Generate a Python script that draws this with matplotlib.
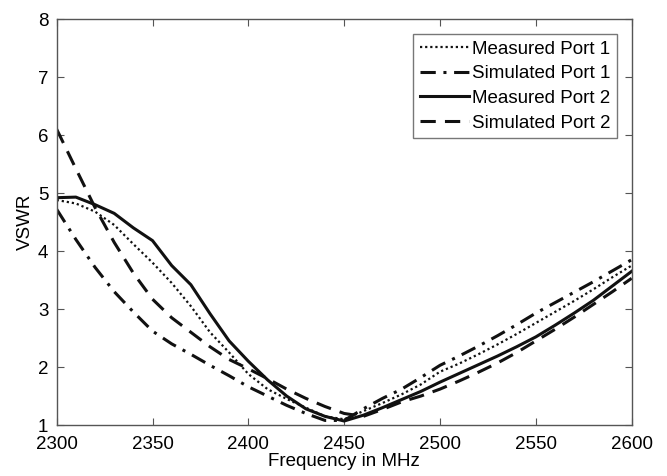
import matplotlib
matplotlib.use("Agg")
from matplotlib import pyplot as plt
import numpy as np

plt.rcParams['font.family'] = ['Liberation Sans', 'DejaVu Sans']

freq = [2300, 2310, 2320, 2330, 2340, 2350, 2360, 2370, 2380, 2390,
        2400, 2410, 2420, 2430, 2440, 2450, 2460, 2470, 2480, 2490,
        2500, 2510, 2520, 2530, 2540, 2550, 2560, 2570, 2580, 2590, 2600]

meas_p1 = [4.88, 4.82, 4.68, 4.45, 4.12, 3.80, 3.45, 3.05, 2.60, 2.25,
           1.88, 1.62, 1.45, 1.30, 1.15, 1.10, 1.24, 1.38, 1.53, 1.70,
           1.92, 2.06, 2.22, 2.39, 2.57, 2.76, 2.95, 3.14, 3.34, 3.55, 3.75]

sim_p1 = [4.72, 4.20, 3.72, 3.30, 2.95, 2.62, 2.40, 2.22, 2.03, 1.85,
          1.66, 1.50, 1.34, 1.20, 1.08, 1.08, 1.28, 1.46, 1.62, 1.82,
          2.03, 2.19, 2.36, 2.54, 2.73, 2.93, 3.11, 3.29, 3.47, 3.66, 3.85]

meas_p2 = [4.92, 4.93, 4.80, 4.65, 4.40, 4.18, 3.75, 3.42, 2.92, 2.45,
           2.10, 1.78, 1.50, 1.28, 1.15, 1.07, 1.17, 1.30, 1.44, 1.58,
           1.74, 1.89, 2.04, 2.19, 2.35, 2.52, 2.72, 2.93, 3.15, 3.40, 3.65]

sim_p2 = [6.10, 5.42, 4.75, 4.15, 3.62, 3.17, 2.85, 2.60, 2.35, 2.13,
          1.97, 1.80, 1.62, 1.46, 1.32, 1.20, 1.15, 1.27, 1.40, 1.50,
          1.62, 1.76, 1.91, 2.07, 2.25, 2.45, 2.65, 2.86, 3.08, 3.30, 3.53]

labels = ['Measured Port 1', 'Simulated Port 1', 'Measured Port 2', 'Simulated Port 2']

fig = plt.figure(figsize=(6.67, 4.76), dpi=100)
ax = fig.add_axes([0.085, 0.107, 0.862, 0.853])

ink = '#111111'
ax.plot(freq, meas_p1, color=ink, lw=1.6, linestyle=(0, (1, 1.3)), label=labels[0])
ax.plot(freq, sim_p1, color=ink, lw=2.2, linestyle=(0, (5, 2.5, 1, 2.5)), label=labels[1])
ax.plot(freq, meas_p2, color=ink, lw=2.2, linestyle='-', label=labels[2])
ax.plot(freq, sim_p2, color=ink, lw=2.2, linestyle=(0, (5, 3)), label=labels[3])

ax.set_xlim(2300, 2600)
ax.set_ylim(1, 8)
ax.set_xticks(np.arange(2300, 2601, 50))
ax.set_yticks(np.arange(1, 9, 1))
ax.tick_params(direction='in', top=True, right=True, labelsize=13.5,
               color='#555555', length=5)
ax.tick_params(axis='y', pad=6)
ax.tick_params(axis='x', pad=8)
for s in ax.spines.values():
    s.set_color('#555555')
    s.set_linewidth(1.0)

ax.set_xlabel('Frequency in MHz', fontsize=13.5, labelpad=0)
ax.set_ylabel('VSWR', fontsize=13.5, labelpad=3)

leg = ax.legend(loc='upper right', fontsize=13.5, frameon=True, fancybox=False,
                borderaxespad=0.8, handlelength=2.6, handletextpad=0.15,
                labelspacing=0.4, borderpad=0.35)
leg.get_frame().set_edgecolor('#555555')
leg.get_frame().set_linewidth(1.0)

fig.savefig('out.png', dpi=100)
